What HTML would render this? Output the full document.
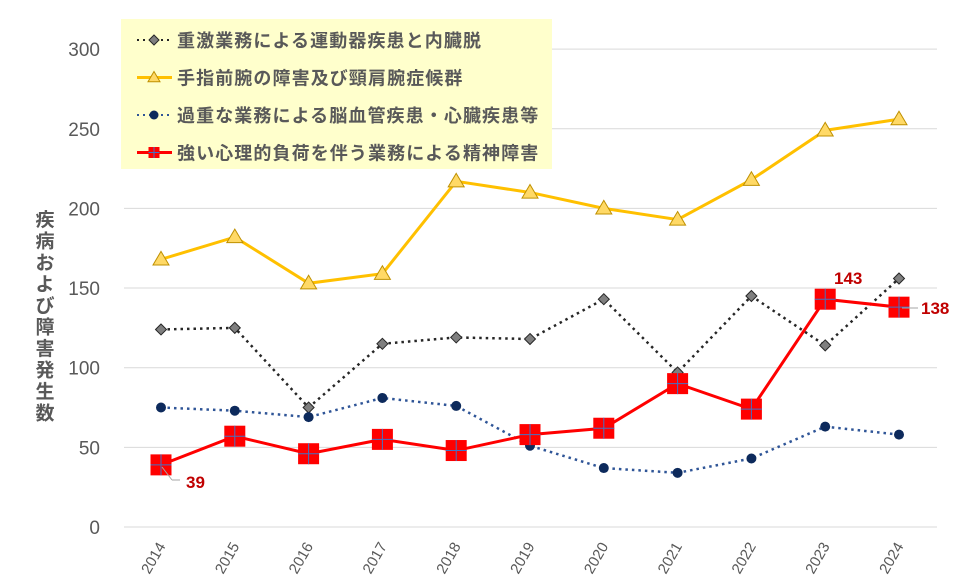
<!DOCTYPE html>
<html><head><meta charset="utf-8"><style>
html,body{margin:0;padding:0;background:#fff;}
svg{display:block;font-family:"Liberation Sans","Noto Sans CJK JP",sans-serif;}
</style></head><body>
<svg id="s" width="980" height="577" xmlns="http://www.w3.org/2000/svg"></svg>
<script>
const s=document.getElementById('s');
const X=i=>161+i*73.8, Y=v=>527-1.593*v;
let h='';
for(let v=0;v<=300;v+=50){const y=Y(v);h+=`<line x1="124" x2="937" y1="${y}" y2="${y}" stroke="#d9d9d9" stroke-width="1"/>`;
h+=`<text x="100" y="${y+7}" text-anchor="end" font-size="19" fill="#595959">${v}</text>`;}
for(let i=0;i<11;i++){h+=`<text transform="translate(${X(i)+5},${546}) rotate(-60)" text-anchor="end" font-size="15" fill="#595959">${2014+i}</text>`;}
const t='疾病および障害発生数';
for(let i=0;i<t.length;i++)h+=`<text x="45" y="${226+i*21.5}" text-anchor="middle" font-size="19" font-weight="bold" fill="#595959">${t[i]}</text>`;
const k=[124,125,75,115,119,118,143,97,145,114,156],
yl=[168,182,153,159,217,210,200,193,218,249,256],
b=[75,73,69,81,76,51,37,34,43,63,58],
r=[39,57,46,55,48,58,62,90,74,143,138];
const pts=a=>a.map((v,i)=>X(i)+','+Y(v)).join(' ');
h+=`<rect x="121" y="19" width="431" height="150" fill="#ffffcc"/>`;
h+=`<polyline points="${pts(yl)}" fill="none" stroke="#ffc000" stroke-width="3"/>`;
h+=`<polyline points="${pts(k)}" fill="none" stroke="#262626" stroke-width="2.5" stroke-dasharray="2.5 4"/>`;
h+=`<polyline points="${pts(b)}" fill="none" stroke="#2f5597" stroke-width="2.5" stroke-dasharray="2.5 4"/>`;
h+=`<polyline points="${pts(r)}" fill="none" stroke="#ff0000" stroke-width="3"/>`;
const tri=(x,y,sz)=>`<polygon points="${x},${y-sz} ${x+sz},${y+sz*0.7} ${x-sz},${y+sz*0.7}" fill="#ffd966" stroke="#bf9000" stroke-width="1"/>`;
const dia=(x,y,sz)=>`<polygon points="${x},${y-sz} ${x+sz},${y} ${x},${y+sz} ${x-sz},${y}" fill="#7f7f7f" stroke="#262626" stroke-width="1"/>`;
const dot=(x,y,sz)=>`<circle cx="${x}" cy="${y}" r="${sz}" fill="#0d2a5c"/>`;
const sq=(x,y,sz)=>`<rect x="${x-sz}" y="${y-sz}" width="${2*sz}" height="${2*sz}" fill="#ff0000"/><line x1="${x-sz}" x2="${x+sz}" y1="${y}" y2="${y}" stroke="#4472c4" stroke-width="1"/><line x1="${x}" x2="${x}" y1="${y-sz}" y2="${y+sz}" stroke="#4472c4" stroke-width="1"/>`;
yl.forEach((v,i)=>h+=tri(X(i),Y(v),8));
k.forEach((v,i)=>h+=dia(X(i),Y(v),5.5));
b.forEach((v,i)=>h+=dot(X(i),Y(v),5));
r.forEach((v,i)=>h+=sq(X(i),Y(v),10.5));
h+=`<line x1="162" y1="467" x2="172" y2="480" stroke="#a6a6a6"/><line x1="172" y1="480" x2="180" y2="480" stroke="#a6a6a6"/>`;
h+=`<text x="186" y="488" font-size="17" font-weight="bold" fill="#c00000">39</text>`;
h+=`<text x="834" y="284" font-size="17" font-weight="bold" fill="#c00000">143</text>`;
h+=`<line x1="902" y1="308" x2="918" y2="308" stroke="#a6a6a6"/>`;
h+=`<text x="921" y="314" font-size="17" font-weight="bold" fill="#c00000">138</text>`;
const L=[['重激業務による運動器疾患と内臓脱','k'],['手指前腕の障害及び頸肩腕症候群','y'],['過重な業務による脳血管疾患・心臓疾患等','b'],['強い心理的負荷を伴う業務による精神障害','r']];
L.forEach((e,i)=>{const y=40+i*37.5;
 if(e[1]=='k'){h+=`<line x1="137" x2="172" y1="${y}" y2="${y}" stroke="#262626" stroke-width="2" stroke-dasharray="2 4"/>`+dia(154,y,5);}
 if(e[1]=='y'){h+=`<line x1="137" x2="172" y1="${y}" y2="${y}" stroke="#ffc000" stroke-width="3"/>`+tri(154,y,6);}
 if(e[1]=='b'){h+=`<line x1="137" x2="172" y1="${y}" y2="${y}" stroke="#2f5597" stroke-width="2" stroke-dasharray="2 4"/>`+dot(154,y,4.5);}
 if(e[1]=='r'){h+=`<line x1="137" x2="172" y1="${y}" y2="${y}" stroke="#ff0000" stroke-width="3"/>`+sq(154,y,5.5);}
 h+=`<text x="177" y="${y+7}" font-size="18" letter-spacing="1.1" font-weight="bold" fill="#595959">${e[0]}</text>`;});
s.innerHTML=h;
</script>
</body></html>
